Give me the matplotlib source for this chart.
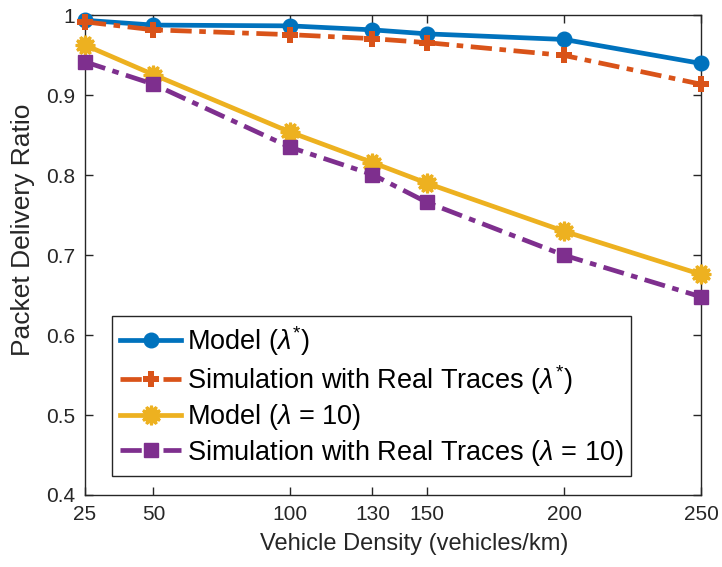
import matplotlib
matplotlib.use("Agg")
import matplotlib.pyplot as plt

plt.rcParams["font.family"] = ["Liberation Sans", "DejaVu Sans"]
plt.rcParams["mathtext.fontset"] = "custom"
plt.rcParams["mathtext.rm"] = "Liberation Sans"
plt.rcParams["mathtext.it"] = "Liberation Sans:italic"

# vehicle density (vehicles/km)
density = [25, 50, 100, 130, 150, 200, 250]
model_opt = [0.994, 0.988, 0.987, 0.982, 0.977, 0.970, 0.940]
sim_opt = [0.992, 0.982, 0.976, 0.971, 0.966, 0.950, 0.914]
model_10 = [0.963, 0.926, 0.854, 0.816, 0.790, 0.730, 0.676]
sim_10 = [0.942, 0.914, 0.835, 0.801, 0.766, 0.700, 0.648]
yticks = [0.4, 0.5, 0.6, 0.7, 0.8, 0.9, 1.0]
ytick_labels = ["0.4", "0.5", "0.6", "0.7", "0.8", "0.9", "1"]

BLUE, ORANGE, YELLOW, PURPLE = "#0072BD", "#D95319", "#EDB120", "#7E2F8E"
INK = "#262626"
dashdot = (0, (4.5, 1.6, 1.4, 1.6))
LW = 3.4

fig = plt.figure(figsize=(7.22, 5.67), dpi=100)
ax = fig.add_axes([0.1177, 0.127, 0.8532, 0.8457])

ax.plot(density, model_opt, color=BLUE, lw=LW, marker="o", ms=10.5, clip_on=False,
        label=r"Model ($\lambda^{*}$)", zorder=3)
ax.plot(density, sim_opt, color=ORANGE, lw=LW, ls=dashdot, marker="P", ms=12, mew=0,
        clip_on=False, label=r"Simulation with Real Traces ($\lambda^{*}$)", zorder=3)
ax.plot(density, model_10, color=YELLOW, lw=LW, marker=(12, 1, 0), ms=14,
        mec=YELLOW, mew=2, clip_on=False, label=r"Model ($\lambda$ = 10)", zorder=3)
ax.plot(density, sim_10, color=PURPLE, lw=LW, ls=dashdot, marker="s", ms=10,
        mfc=PURPLE, mec=PURPLE, clip_on=False,
        label=r"Simulation with Real Traces ($\lambda$ = 10)", zorder=3)

ax.set_xlim(25, 250)
ax.set_ylim(0.4, 1.0)
ax.set_xticks(density)
ax.set_xticklabels([str(d) for d in density])
ax.set_yticks(yticks)
ax.set_yticklabels(ytick_labels)
ax.tick_params(direction="in", top=True, right=True, labelsize=15,
               length=6, width=1, colors=INK, pad=7)
for sp in ax.spines.values():
    sp.set_color(INK)
    sp.set_linewidth(1)

ax.set_xlabel("Vehicle Density (vehicles/km)", fontsize=17, color=INK)
ax.xaxis.set_label_coords(0.534, -0.079)
ax.set_ylabel("Packet Delivery Ratio", fontsize=19, color=INK)
ax.yaxis.set_label_coords(-0.081, 0.552)

leg = ax.legend(loc="lower left", bbox_to_anchor=(0.044, 0.04), borderaxespad=0,
                fontsize=19.5, fancybox=False, framealpha=1, edgecolor=INK,
                handlelength=2.25, handletextpad=0.2, labelspacing=0.2,
                borderpad=0.3)
leg.get_frame().set_linewidth(1)

fig.savefig("out.png", dpi=100)
